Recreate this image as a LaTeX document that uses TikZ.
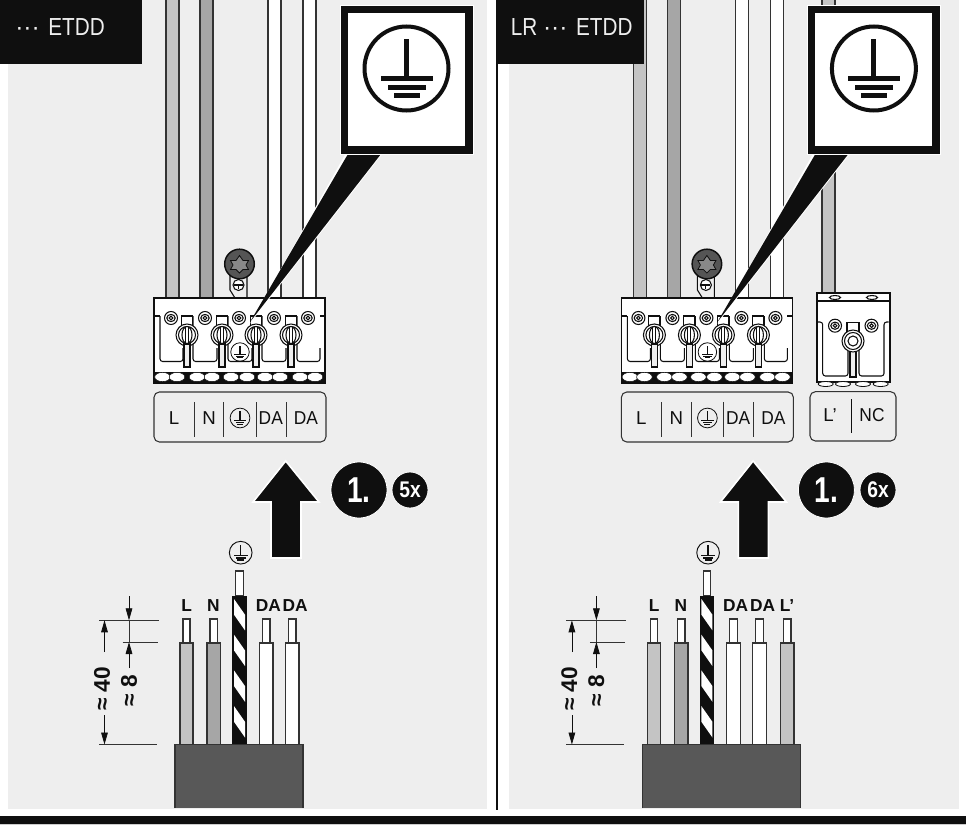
\documentclass[tikz,border=0pt]{standalone}
\usepackage{fontspec}
\setmainfont{Liberation Sans}
\usetikzlibrary{arrows.meta}
\definecolor{panelgray}{HTML}{EEEEEE}
\definecolor{inkblack}{HTML}{0F0F0F}
\definecolor{wireline}{HTML}{333333}
\definecolor{wireL}{HTML}{C4C4C4}
\definecolor{wireN}{HTML}{A6A6A6}
\definecolor{cablegray}{HTML}{585858}
\definecolor{screwgray}{HTML}{555555}
\tikzset{
  wirebox/.style={draw=wireline,line width=0.9pt},
  partline/.style={draw=inkblack,line width=0.8pt},
  labelbox/.style={draw=wireline,line width=0.8pt,fill=panelgray,rounded corners=4pt},
  labeltext/.style={font=\fontsize{14pt}{15pt}\selectfont,text=inkblack,inner sep=0pt},
  wiretext/.style={font=\bfseries\fontsize{13pt}{14pt}\selectfont,text=inkblack,inner sep=0pt},
  dimtext/.style={font=\bfseries\fontsize{17pt}{18pt}\selectfont,text=inkblack,inner sep=0pt,rotate=90},
  headtext/.style={font=\fontsize{18.5pt}{19pt}\selectfont,text=panelgray,inner sep=0pt,anchor=west},
  dimarrow/.style={draw=inkblack,line width=0.6pt,-{Triangle[length=9pt,width=5pt]}},
  dimrule/.style={draw=wireline,line width=0.6pt},
  stepbadge/.style={circle,fill=inkblack,draw=white,line width=0.6pt,minimum size=42pt,inner sep=0pt,text=white,font=\bfseries\fontsize{27pt}{28pt}\selectfont},
  timesbadge/.style={circle,fill=inkblack,draw=white,line width=0.6pt,minimum size=27pt,inner sep=0pt,text=white,font=\bfseries\fontsize{17pt}{18pt}\selectfont}
}
% earth symbol: centre, scale, line width
\newcommand\earthmark[4]{%
  \begin{scope}[shift={(#1,#2)},scale=#3]
    \draw[inkblack,line width=#4] (0,0) circle (42);
    \fill[inkblack] (-2.5,-29.5) rectangle (2.5,8);
    \fill[inkblack] (-26,8) rectangle (26,13);
    \fill[inkblack] (-19,16.5) rectangle (19,21.5);
    \fill[inkblack] (-13,24.5) rectangle (13,29.5);
  \end{scope}}
\newcommand\ringmark[2]{%
  \draw[partline,fill=white] (#1,#2) circle (6.5);
  \draw[partline,fill=white] (#1,#2) ellipse (4.2 and 3.6);
  \draw[partline] (#1,#2) circle (1.8);}
\newcommand\clampmark[2]{%
  \draw[partline,fill=white] (#1-5.5,#2-19) -- (#1+5.5,#2-19) -- (#1+5.5,#2-6) -- (#1-5.5,#2-6) -- cycle;
  \draw[partline,fill=white] (#1,#2) circle (11);
  \draw[partline] (#1,#2) circle (8.5);
  \draw[partline,fill=white] (#1,#2) ellipse (5 and 8.5);
  \draw[partline] (#1-1.5,#2-8) -- (#1-1.5,#2+8) (#1+1.5,#2-8) -- (#1+1.5,#2+8);
  \draw[partline,fill=panelgray] (#1-3,#2+9) rectangle (#1+3,#2+32);}
\newcommand\ucell[2]{%
  \draw[partline,rounded corners=2pt] (#1,316) -- (#1,361.5) -- (#2,361.5) -- (#2,348);}
\newcommand\wirelow[3]{%
  \draw[wirebox,fill=white] (#1+3,619) rectangle (#2-3,643);
  \draw[wirebox,fill=#3] (#1,643) rectangle (#2,745);}
\newcommand\commonpanel[1]{%
  \foreach \a/\b/\c in {166/179/wireL,200/213/wireN,268/281/white,303/316/white}{
    \draw[wirebox,fill=\c] (\a,-3) -- (\a,298) -- (\b,298) -- (\b,-3);}
  % lug and screw
  \draw[partline,fill=panelgray] (230,272) -- (230,290) -- (235,298) -- (247,298) -- (247,272) -- cycle;
  \draw[partline,fill=white] (238.5,285) circle (5.5);
  \draw[partline] (234,285) -- (243,285) (238.5,285) -- (238.5,289);
  \draw[inkblack,line width=1.1pt,fill=screwgray] (239.5,264) circle (14.8);
  \draw[inkblack,line width=0.6pt,fill=screwgray!70!white] (239.5,255.5) -- (243,260.5) -- (248.5,260.5) -- (246,265) -- (248.5,269.5) -- (243,269.5) -- (239.5,273) -- (236,269.5) -- (230.5,269.5) -- (233,265) -- (230.5,260.5) -- (236,260.5) -- cycle;
  % connector
  \draw[inkblack,line width=1.3pt,fill=white] (154,298) rectangle (325,383);
  \ucell{160}{183}\ucell{193}{217}\ucell{228}{252}\ucell{262}{286}\ucell{297}{320}
  \draw[partline] (155,316) -- (160,316) (320,316) -- (325,316);
  \foreach \x in {171,205,239,274,308}{\ringmark{\x}{318}}
  \foreach \x in {187,222,256,291}{\clampmark{\x}{335}}
  \fill[inkblack] (154,371.5) rectangle (325,383);
  \foreach \x in {162.5,177,197,212,231,247,265,280,300,315}{
    \draw[inkblack,line width=0.4pt,fill=white] (\x,377) ellipse (7.8 and 4.6);}
  \earthmark{240}{352}{0.22}{0.6pt}
  % pointer and callout
  \fill[white] (346,153) -- (383,153) -- (250,323.5) -- cycle;
  \fill[inkblack] (348,154) -- (381,154) -- (250,322) -- cycle;
  \draw[white,line width=0.6pt,fill=inkblack] (340,5) rectangle (473,154);
  \fill[white] (348,13) rectangle (465,146);
  \earthmark{406.5}{68.5}{1}{3pt}
  % label box
  \draw[labelbox] (154,392) rectangle (326,442);
  \draw[wireline,line width=0.6pt] (194,402) -- (194,437) (223.5,402) -- (223.5,437) (256,402) -- (256,437) (286,402) -- (286,437);
  \node[labeltext] (#1-bl) at (174,418) {L};
  \node[labeltext] (#1-bn) at (209,418) {N};
  \earthmark{240}{418}{0.235}{0.6pt}
  \node[labeltext] (#1-bda) at (270.8,418) {\scalebox{0.93}[1]{DA}};
  \node[labeltext] (#1-bdb) at (306,418) {\scalebox{0.93}[1]{DA}};
  % big arrow
  \draw[white,line width=1.2pt,fill=inkblack,line join=miter] (285.7,461) -- (319,502) -- (301,502) -- (301,558) -- (271,558) -- (271,502) -- (253,502) -- cycle;
  \node[stepbadge] (#1-step) at (359,490) {\scalebox{0.78}[1]{1.}};
  \earthmark{240.7}{552.7}{0.27}{0.7pt}
  % wires below
  \wirelow{180}{193}{wireL}
  \wirelow{207}{220.5}{wireN}
  \wirelow{259.3}{273}{white}
  \wirelow{285.3}{299}{white}
  % striped wire
  \draw[wirebox,fill=white] (235.7,571) rectangle (243.3,596);
  \fill[inkblack] (232.3,596) rectangle (246.7,745);
  \foreach \y in {599,634.7,670.4,706.1}{
    \fill[white] (234,\y) -- (245,\y+15.7) -- (245,\y+31.4) -- (234,\y+15.7) -- cycle;}
  % wire labels
  \node[wiretext] (#1-wl) at (186.7,605.7) {L};
  \node[wiretext] (#1-wn) at (213.5,605.7) {N};
  \node[wiretext] (#1-wda) at (268.3,605.7) {DA};
  \node[wiretext] (#1-wdb) at (295.2,605.7) {DA};
  % dimensions
  \draw[dimrule] (99,620.3) -- (159,620.3) (122.5,642) -- (158,642) (99,744.5) -- (157,744.5);
  \coordinate (#1-a) at (129,596); \coordinate (#1-b) at (129,620.3);
  \coordinate (#1-c) at (129,668); \coordinate (#1-d) at (129,642);
  \draw[dimarrow] (#1-a) -- (#1-b);
  \draw[dimarrow] (#1-c) -- (#1-d);
  \draw[dimrule] (#1-b) -- (#1-d);
  \coordinate (#1-e) at (104.5,652); \coordinate (#1-f) at (104.5,620.3);
  \coordinate (#1-g) at (104.5,715); \coordinate (#1-h) at (104.5,744.5);
  \draw[dimarrow] (#1-e) -- (#1-f);
  \draw[dimarrow] (#1-g) -- (#1-h);
  \node[dimtext] (#1-d8) at (129,691) {≈ 8};
  \node[dimtext] (#1-d40) at (102,689) {≈ 40};
}
\begin{document}
\begin{tikzpicture}[x=0.75pt,y=-0.75pt]
  \useasboundingbox (0,0) rectangle (966,827);
  \fill[white] (0,0) rectangle (966,827);
  \clip (0,0) rectangle (966,827);
  % panels
  \fill[panelgray] (8,0) rectangle (487,808.5);
  \fill[panelgray] (509,0) rectangle (959,808.5);
  \fill[inkblack] (495.7,0) rectangle (498.3,809.5);
  \fill[inkblack] (0,816) rectangle (966,824);
  \fill[panelgray!70!gray] (0,824) rectangle (966,824.8);
  % left panel
  \commonpanel{lp}
  \draw[wirebox,fill=cablegray] (175,808) -- (175,744.5) -- (303,744.5) -- (303,808);
  \node[timesbadge] (lp-times) at (410,490) {\scalebox{0.85}[1]{5x}};
  \fill[inkblack] (0,0) rectangle (142,64);
  \node[headtext] (lp-head) at (15,27) {···\kern 2pt\scalebox{0.84}[1]{\ ETDD}};
  % extra wire L' behind the right callout
  \draw[wirebox,fill=wireL] (822,-3) -- (822,293) -- (835,293) -- (835,-3);
  % right panel
  \begin{scope}[shift={(467.4,0)}]
    \commonpanel{rp}
  \end{scope}
  \draw[wirebox,fill=white] (783.7,619) rectangle (791,643);
  \draw[wirebox,fill=wireL] (780.3,643) rectangle (794,745);
  \node[wiretext] (rp-wlp) at (787,605.7) {L'};
  \draw[wirebox,fill=cablegray] (642.7,808) -- (642.7,744.5) -- (800.7,744.5) -- (800.7,808);
  % small connector
  \draw[inkblack,line width=1.3pt,fill=white] (816.7,293) rectangle (890,381.7);
  \draw[partline] (816.7,301) -- (890,301);
  \draw[partline,fill=white] (835,297.5) ellipse (5.5 and 2);
  \draw[partline,fill=white] (872,297.5) ellipse (5.5 and 2);
  \draw[partline,rounded corners=2pt] (818,322) -- (822.7,322) -- (822.7,376) -- (848,376) -- (848,350);
  \draw[partline,rounded corners=2pt] (888.5,322) -- (884,322) -- (884,376) -- (859,376) -- (859,350);
  \ringmark{835}{325.7}\ringmark{871.5}{325.7}
  \draw[partline,fill=white] (847,341) -- (847,322.7) -- (859,322.7) -- (859,341) -- cycle;
  \draw[partline,fill=panelgray] (850,350) rectangle (856,377);
  \draw[partline,fill=white] (853,341) circle (11);
  \draw[partline] (853,341) circle (8.5);
  \draw[partline] (853,341) circle (5);
  \foreach \x in {825.7,843,863,880.7}{
    \draw[inkblack,line width=0.6pt,fill=white] (\x,384) ellipse (7.5 and 2.5);}
  \draw[labelbox] (810,391.7) rectangle (896,441);
  \draw[inkblack,line width=0.6pt] (851.7,399) -- (851.7,433);
  \node[labeltext] (rp-blp) at (830,415.5) {L'};
  \node[labeltext] (rp-bnc) at (872,415.5) {\scalebox{0.93}[1]{NC}};
  \node[timesbadge] (rp-times) at (878,490) {\scalebox{0.85}[1]{6x}};
  \fill[inkblack] (496,0) rectangle (644,64);
  \node[headtext] (rp-head) at (510.5,27) {\scalebox{0.84}[1]{LR\ }···\kern 2pt\scalebox{0.84}[1]{\ ETDD}};
\end{tikzpicture}
\end{document}
